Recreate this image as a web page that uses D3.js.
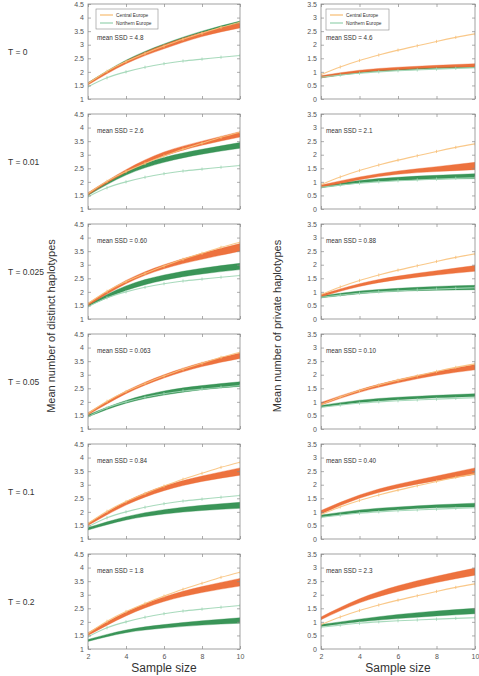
<!DOCTYPE html>
<html><head><meta charset="utf-8">
<script src="https://cdn.jsdelivr.net/npm/d3@7"></script>
<style>html,body{margin:0;padding:0;background:#fff;}svg{display:block;font-family:"Liberation Sans",Arial,sans-serif;}</style>
</head><body><svg id="c" width="479" height="676"></svg>
<script>
const tLabels = ["T = 0","T = 0.01","T = 0.025","T = 0.05","T = 0.1","T = 0.2"];
const ssdDistinct = ["4.8","2.6","0.60","0.063","0.84","1.8"];
const ssdPrivate = ["4.6","2.1","0.88","0.10","0.40","2.3"];
const obsX = [2,3,4,5,6,7,8,9,10];
const bandX = [2,4,6,8,10];
const xTicks = [2,4,6,8,10];
const distinctTicks = [1,1.5,2,2.5,3,3.5,4,4.5];
const privateTicks = [0,0.5,1,1.5,2,2.5,3,3.5];
// observed
const distinctObsCentral = [1.57,2.02,2.38,2.68,2.95,3.2,3.42,3.64,3.83];
const distinctObsNorthern = [1.45,1.78,2.0,2.17,2.3,2.4,2.47,2.54,2.6];
const privateObsCentral = [0.9,1.18,1.42,1.62,1.8,1.96,2.12,2.27,2.4];
const privateObsNorthern = [0.8,0.88,0.95,1.0,1.04,1.07,1.1,1.13,1.15];
// simulated bands (per T, at x = 2,4,6,8,10)
const distinctCentralLow = [[1.52,2.3,2.85,3.3,3.62],[1.52,2.35,2.95,3.35,3.65],[1.5,2.3,2.85,3.2,3.5],[1.52,2.3,2.88,3.3,3.6],[1.5,2.25,2.78,3.12,3.35],[1.5,2.22,2.75,3.08,3.32]];
const distinctCentralHigh = [[1.6,2.4,3.0,3.45,3.8],[1.6,2.45,3.1,3.5,3.85],[1.58,2.42,3.0,3.42,3.78],[1.6,2.4,3.0,3.45,3.8],[1.58,2.38,2.95,3.32,3.62],[1.6,2.36,2.92,3.3,3.6]];
const distinctNorthernLow = [[1.55,2.38,2.98,3.45,3.8],[1.5,2.25,2.72,3.02,3.24],[1.47,2.05,2.43,2.66,2.82],[1.45,1.95,2.25,2.45,2.57],[1.33,1.7,1.92,2.05,2.13],[1.28,1.6,1.77,1.88,1.95]];
const distinctNorthernHigh = [[1.6,2.43,3.03,3.5,3.87],[1.58,2.4,2.9,3.2,3.45],[1.55,2.22,2.62,2.87,3.05],[1.52,2.05,2.4,2.6,2.74],[1.42,1.82,2.08,2.24,2.35],[1.35,1.7,1.9,2.04,2.15]];
const privateCentralLow = [[0.78,0.98,1.08,1.15,1.18],[0.8,1.08,1.28,1.38,1.45],[0.82,1.2,1.45,1.62,1.76],[0.88,1.35,1.7,1.98,2.18],[0.92,1.5,1.88,2.15,2.38],[1.08,1.7,2.12,2.45,2.72]];
const privateCentralHigh = [[0.86,1.06,1.17,1.24,1.3],[0.88,1.18,1.4,1.56,1.72],[0.9,1.3,1.58,1.78,1.97],[0.98,1.45,1.82,2.12,2.38],[1.05,1.62,2.02,2.32,2.62],[1.18,1.85,2.33,2.68,2.98]];
const privateNorthernLow = [[0.78,0.96,1.06,1.12,1.16],[0.78,0.96,1.05,1.1,1.12],[0.78,0.93,1.02,1.06,1.08],[0.8,0.98,1.08,1.15,1.2],[0.8,0.98,1.08,1.15,1.18],[0.83,1.0,1.12,1.22,1.3]];
const privateNorthernHigh = [[0.84,1.02,1.12,1.18,1.22],[0.85,1.05,1.17,1.24,1.3],[0.85,1.03,1.13,1.2,1.24],[0.87,1.06,1.17,1.24,1.3],[0.88,1.07,1.18,1.26,1.32],[0.9,1.1,1.27,1.4,1.5]];
const legendLabels = ["Central Europe","Northern Europe"];

const C = {obsC:"#f8c27c", obsN:"#9ed6b5", bandC:"#ec6a34", bandN:"#2f8f4f", axis:"#8a8a8a", text:"#333"};
const svg = d3.select("#c");
const panelTop = i => 4 + i*110;
const panelH = 95;
const cols = [
  {x0:88, x1:240, dom:[1,4.5], ticks:distinctTicks, obsC:distinctObsCentral, obsN:distinctObsNorthern,
   cLo:distinctCentralLow, cHi:distinctCentralHigh, nLo:distinctNorthernLow, nHi:distinctNorthernHigh, ssd:ssdDistinct,
   title:"Mean number of distinct haplotypes", titleX:55, legendW:62},
  {x0:321, x1:475, dom:[0,3.5], ticks:privateTicks, obsC:privateObsCentral, obsN:privateObsNorthern,
   cLo:privateCentralLow, cHi:privateCentralHigh, nLo:privateNorthernLow, nHi:privateNorthernHigh, ssd:ssdPrivate,
   title:"Mean number of private haplotypes", titleX:281, legendW:63}
];

tLabels.forEach((t,i)=>{
  svg.append("text").attr("x",8).attr("y",panelTop(i)+panelH/2+3).attr("font-size",8.5).attr("fill",C.text).text(t);
});

cols.forEach((col,ci)=>{
  const x = d3.scaleLinear().domain([2,10]).range([col.x0,col.x1]);
  for(let i=0;i<6;i++){
    const top = panelTop(i);
    const y = d3.scaleLinear().domain(col.dom).range([top+panelH, top]);
    const g = svg.append("g");
    const clipId = "clip"+ci+"_"+i;
    svg.append("clipPath").attr("id",clipId).append("rect").attr("x",col.x0).attr("y",top).attr("width",col.x1-col.x0).attr("height",panelH);
    const pg = g.append("g").attr("clip-path","url(#"+clipId+")");
    const area = d3.area().x((d,k)=>x(bandX[k])).y0(d=>y(d[0])).y1(d=>y(d[1])).curve(d3.curveNatural);
    const line = d3.line().x((d,k)=>x(obsX[k])).y(d=>y(d)).curve(d3.curveNatural);
    // bands
    const nb = col.nLo[i].map((v,k)=>[v,col.nHi[i][k]]);
    const cb = col.cLo[i].map((v,k)=>[v,col.cHi[i][k]]);
    pg.append("path").datum(nb).attr("d",area).attr("fill",C.bandN).attr("fill-opacity",0.95).attr("stroke",C.bandN).attr("stroke-opacity",0.6).attr("stroke-width",0.6);
    pg.append("path").datum(cb).attr("d",area).attr("fill",C.bandC).attr("fill-opacity",0.95).attr("stroke",C.bandC).attr("stroke-opacity",0.6).attr("stroke-width",0.6);
    // observed lines (drawn over bands)
    [[col.obsN,C.obsN],[col.obsC,C.obsC]].forEach(([arr,c])=>{
      pg.append("path").datum(arr).attr("d",line).attr("fill","none").attr("stroke",c).attr("stroke-width",1.1).attr("stroke-opacity",0.9);
      pg.selectAll(null).data(arr).enter().append("line")
        .attr("x1",(d,k)=>x(obsX[k])).attr("x2",(d,k)=>x(obsX[k]))
        .attr("y1",d=>y(d)-1.6).attr("y2",d=>y(d)+1.6).attr("stroke",c).attr("stroke-width",0.8);
    });
    // frame
    g.append("rect").attr("x",col.x0).attr("y",top).attr("width",col.x1-col.x0).attr("height",panelH)
      .attr("fill","none").attr("stroke",C.axis).attr("stroke-width",0.8);
    // axes
    const yAx = g.append("g").attr("transform","translate("+col.x0+",0)")
      .call(d3.axisLeft(y).tickValues(col.ticks).tickSize(-3).tickPadding(4).tickFormat(d3.format("~g")));
    const yAxR = g.append("g").attr("transform","translate("+col.x1+",0)")
      .call(d3.axisRight(y).tickValues(col.ticks).tickSize(-3).tickFormat(""));
    const xAx = g.append("g").attr("transform","translate(0,"+(top+panelH)+")")
      .call(d3.axisBottom(x).tickValues(xTicks).tickSize(-3).tickPadding(5).tickFormat(i===5?d3.format("d"):""));
    const xAxT = g.append("g").attr("transform","translate(0,"+top+")")
      .call(d3.axisTop(x).tickValues(xTicks).tickSize(-3).tickFormat(""));
    [yAx,yAxR,xAx,xAxT].forEach(a=>{
      a.select(".domain").remove();
      a.selectAll(".tick line").attr("stroke",C.axis).attr("stroke-width",0.7);
      a.selectAll(".tick text").attr("font-size",7).attr("fill","#555").attr("font-family","Liberation Sans, Arial, sans-serif");
    });
    // SSD text
    g.append("text").attr("x",col.x0+(ci===0?9:5)).attr("y",top+(i===0?36:19)).attr("font-size",6.3).attr("fill",C.text)
      .text("mean SSD = "+col.ssd[i]);
    if(i===0){
      const lg = g.append("g");
      const lx = col.x0+(ci===0?8:5), ly = top+5;
      lg.append("rect").attr("x",lx).attr("y",ly).attr("width",col.legendW).attr("height",ci===0?20:21)
        .attr("fill","#fff").attr("stroke",C.axis).attr("stroke-width",0.6);
      [C.obsC,C.obsN].forEach((c,k)=>{
        lg.append("line").attr("x1",lx+4).attr("x2",lx+17).attr("y1",ly+6+k*8).attr("y2",ly+6+k*8).attr("stroke",c).attr("stroke-width",1.3);
        lg.append("text").attr("x",lx+20).attr("y",ly+8+k*8).attr("font-size",4.8).attr("fill",C.text).text(legendLabels[k]);
      });
    }
  }
  svg.append("text").attr("transform","translate("+col.titleX+",326) rotate(-90)").attr("text-anchor","middle")
    .attr("font-size",11).attr("fill",C.text).text(col.title);
  svg.append("text").attr("x",(col.x0+col.x1)/2).attr("y",672).attr("text-anchor","middle")
    .attr("font-size",12).attr("fill",C.text).text("Sample size");
});
</script></body></html>
